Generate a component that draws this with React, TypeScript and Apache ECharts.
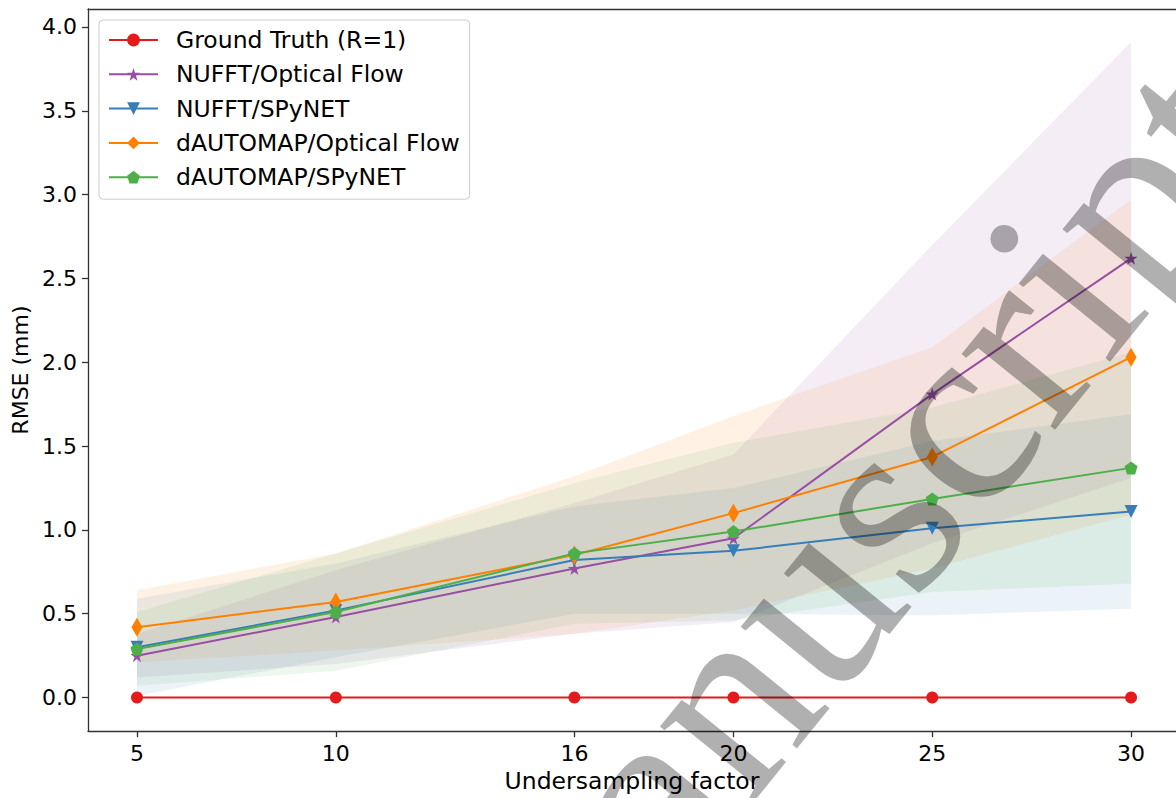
import React, { useEffect, useRef } from "react";
import * as echarts from "echarts";

const xs = [5, 10, 16, 20, 25, 30];
const xTicks = [5, 10, 16, 20, 25, 30];
const yTicks = [0, 0.5, 1.0, 1.5, 2.0, 2.5, 3.0, 3.5, 4.0];

const groundTruth = [0, 0, 0, 0, 0, 0];
const nufftOF = [0.25, 0.48, 0.77, 0.95, 1.81, 2.62];
const nufftSP = [0.30, 0.52, 0.82, 0.875, 1.01, 1.11];
const dautoOF = [0.42, 0.57, 0.85, 1.10, 1.435, 2.03];
const dautoSP = [0.29, 0.51, 0.86, 0.99, 1.185, 1.37];

const nufftOFLo = [0.12, 0.20, 0.38, 0.45, 0.92, 1.31];
const nufftOFHi = [0.38, 0.76, 1.16, 1.45, 2.70, 3.91];
const nufftSPLo = [0.01, 0.24, 0.50, 0.50, 0.49, 0.53];
const nufftSPHi = [0.59, 0.80, 1.14, 1.25, 1.53, 1.69];
const dautoOFLo = [0.21, 0.28, 0.38, 0.52, 0.77, 1.09];
const dautoOFHi = [0.64, 0.86, 1.32, 1.68, 2.09, 2.97];
const dautoSPLo = [0.07, 0.16, 0.44, 0.46, 0.63, 0.68];
const dautoSPHi = [0.51, 0.86, 1.28, 1.52, 1.73, 2.06];

const names = [
  "Ground Truth (R=1)",
  "NUFFT/Optical Flow",
  "NUFFT/SPyNET",
  "dAUTOMAP/Optical Flow",
  "dAUTOMAP/SPyNET",
];

const RED = "#e41a1c";
const PURPLE = "#984ea3";
const BLUE = "#377eb8";
const ORANGE = "#ff7f00";
const GREEN = "#4daf4a";

const STAR =
  "path://M0,-1000L224,-309L951,-309L363,118L588,809L0,382L-588,809L-363,118L-951,-309L-224,-309Z";
const PENTAGON = "path://M0,-1000L951,-309L588,809L-588,809L-951,-309Z";

const FONT = "DejaVu Sans";
const X_MIN = 3.768;
const X_MAX = 31.13;
const Y_MIN = -0.2;
const Y_MAX = 4.107;

function band(name: string, lo: number[], hi: number[], color: string) {
  return {
    type: "custom",
    name: name + " band",
    silent: true,
    z: 1,
    data: xs.map((x, i) => [x, lo[i], hi[i]]),
    encode: { x: 0, y: [1, 2] },
    renderItem: (params: any, api: any) => {
      if (params.dataIndex !== 0) return null;
      const pts: number[][] = [];
      for (let i = 0; i < xs.length; i++) pts.push(api.coord([xs[i], hi[i]]));
      for (let i = xs.length - 1; i >= 0; i--) pts.push(api.coord([xs[i], lo[i]]));
      return {
        type: "polygon",
        shape: { points: pts },
        style: { fill: color, opacity: 0.1 },
      };
    },
  };
}

function line(name: string, vals: number[], color: string, symbol: string, size: any, rotate = 0) {
  return {
    type: "line",
    name,
    z: 3,
    data: xs.map((x, i) => [x, vals[i]]),
    symbol,
    symbolSize: size,
    symbolRotate: rotate,
    showAllSymbol: true,
    lineStyle: { color, width: 2 },
    itemStyle: { color },
  };
}

const spine = { show: true, onZero: false, lineStyle: { color: "#333", width: 1.3 } };

export default function App() {
  const ref = useRef<HTMLDivElement>(null);
  useEffect(() => {
    const chart = echarts.init(ref.current!, null, { renderer: "svg" });
    chart.setOption({
      animation: false,
      backgroundColor: "#ffffff",
      grid: { left: 88, top: 9, right: 0, bottom: 63, show: false },
      legend: {
        data: names,
        orient: "vertical",
        left: 99,
        top: 20,
        itemWidth: 49,
        itemHeight: 16,
        itemGap: 10.3,
        padding: [8, 10, 10, 9],
        backgroundColor: "rgba(255,255,255,0.85)",
        borderColor: "#cccccc",
        borderWidth: 1,
        borderRadius: 4,
        textStyle: {
          fontFamily: FONT,
          fontSize: 23.5,
          color: "#000",
          lineHeight: 24,
          padding: [0, 0, 0, 13],
        },
      },
      xAxis: [
        {
          type: "value",
          min: X_MIN,
          max: X_MAX,
          name: "Undersampling factor",
          nameLocation: "middle",
          nameGap: 30,
          nameTextStyle: { fontFamily: FONT, fontSize: 23.5, color: "#000" },
          splitLine: { show: false },
          axisLine: spine,
          axisTick: { show: true, length: 6, lineStyle: { color: "#333", width: 1.3 }, customValues: xTicks },
          axisLabel: {
            customValues: xTicks,
            fontFamily: FONT,
            fontSize: 22,
            color: "#000",
            margin: 11,
            formatter: (v: number) => String(v),
          },
        },
        {
          type: "value",
          position: "top",
          min: X_MIN,
          max: X_MAX,
          splitLine: { show: false },
          axisLine: spine,
          axisTick: { show: false },
          axisLabel: { show: false },
        },
      ],
      yAxis: {
        type: "value",
        min: Y_MIN,
        max: Y_MAX,
        name: "RMSE (mm)",
        nameLocation: "middle",
        nameGap: 54,
        nameTextStyle: { fontFamily: FONT, fontSize: 22, color: "#000" },
        splitLine: { show: false },
        axisLine: spine,
        axisTick: { show: true, length: 6, lineStyle: { color: "#333", width: 1.3 }, customValues: yTicks },
        axisLabel: {
          customValues: yTicks,
          fontFamily: FONT,
          fontSize: 22,
          color: "#000",
          margin: 11,
          formatter: (v: number) => v.toFixed(1),
        },
      },
      graphic: [
        {
          type: "text",
          x: 846,
          y: 548,
          rotation: (51 * Math.PI) / 180,
          silent: true,
          z: 100,
          style: {
            text: "manuscript",
            fontFamily: "Liberation Serif",
            fontSize: 262,
            fill: "rgba(0,0,0,0.31)",
            align: "center",
            verticalAlign: "middle",
          },
        },
      ],
      series: [
        band(names[1], nufftOFLo, nufftOFHi, PURPLE),
        band(names[2], nufftSPLo, nufftSPHi, BLUE),
        band(names[3], dautoOFLo, dautoOFHi, ORANGE),
        band(names[4], dautoSPLo, dautoSPHi, GREEN),
        line(names[0], groundTruth, RED, "circle", 12),
        line(names[1], nufftOF, PURPLE, STAR, 13),
        line(names[2], nufftSP, BLUE, "triangle", 13, 180),
        line(names[3], dautoOF, ORANGE, "diamond", [11, 19]),
        line(names[4], dautoSP, GREEN, PENTAGON, 13),
      ],
    });
    return () => chart.dispose();
  }, []);
  return (
    <div
      ref={ref}
      style={{ position: "fixed", left: 0, top: 0, width: 1176, height: 798 }}
    />
  );
}
